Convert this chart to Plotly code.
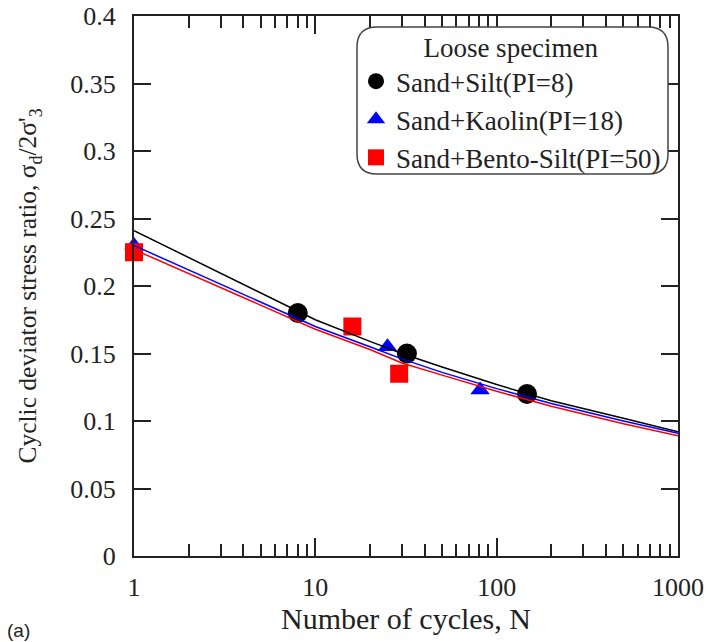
import plotly.graph_objects as go

# Measured points: number of cycles to failure vs. cyclic deviator stress ratio
silt_N = [8, 32, 147]
silt_csr = [0.180, 0.150, 0.120]

kaolin_N = [1, 25, 81]
kaolin_csr = [0.230, 0.155, 0.123]

bento_N = [1, 16, 29]
bento_csr = [0.225, 0.170, 0.135]

# Trend curves for each mixture
curve_N = [1, 8, 10, 20, 30, 50, 100, 200, 300, 500, 1000]
silt_curve = [0.241, 0.181, 0.175, 0.159, 0.150, 0.140, 0.127, 0.115, 0.109, 0.102, 0.092]
kaolin_curve = [0.230, 0.176, 0.170, 0.155, 0.146, 0.136, 0.124, 0.113, 0.107, 0.100, 0.091]
bento_curve = [0.227, 0.174, 0.168, 0.153, 0.143, 0.134, 0.122, 0.111, 0.105, 0.098, 0.089]

x_ticks = [1, 10, 100, 1000]
x_tick_text = ["1", "10", "100", "1000"]

series_names = ["Sand+Silt(PI=8)", "Sand+Kaolin(PI=18)", "Sand+Bento-Silt(PI=50)"]

FONT = "Liberation Serif"
TXT = "#222222"
W, H = 709, 642
L, R, T, B = 134, 31, 16, 86
PW, PH = W - L - R, H - T - B

fig = go.Figure()

marker_specs = [
    (silt_N, silt_csr, "circle", "black", 20),
    (kaolin_N, kaolin_csr, "triangle-up", "#0000ff", 17),
    (bento_N, bento_csr, "square", "#ff0000", 18),
]
for i, ((xs, ys, sym, col, sz), name) in enumerate(zip(marker_specs, series_names)):
    fig.add_trace(go.Scatter(
        x=xs, y=ys, mode="markers", name=name, legendgroup=f"g{i}",
        cliponaxis=False,
        marker=dict(symbol=sym, color=col, size=sz, line=dict(width=0)),
    ))

for ys, col in [(silt_curve, "black"), (kaolin_curve, "#0000ff"), (bento_curve, "#ff0000")]:
    fig.add_trace(go.Scatter(
        x=curve_N, y=ys, mode="lines", showlegend=False, hoverinfo="skip",
        line=dict(color=col, width=1.5),
    ))


def px_x(p):
    return (p - L) / PW


def px_y(p):
    return (H - B - p) / PH


# Rounded legend frame
x0, x1, y0, y1, r = 357, 668, 27, 174, 20
path = (
    f"M {px_x(x0 + r)},{px_y(y0)} L {px_x(x1 - r)},{px_y(y0)} "
    f"Q {px_x(x1)},{px_y(y0)} {px_x(x1)},{px_y(y0 + r)} "
    f"L {px_x(x1)},{px_y(y1 - r)} "
    f"Q {px_x(x1)},{px_y(y1)} {px_x(x1 - r)},{px_y(y1)} "
    f"L {px_x(x0 + r)},{px_y(y1)} "
    f"Q {px_x(x0)},{px_y(y1)} {px_x(x0)},{px_y(y1 - r)} "
    f"L {px_x(x0)},{px_y(y0 + r)} "
    f"Q {px_x(x0)},{px_y(y0)} {px_x(x0 + r)},{px_y(y0)} Z"
)
fig.add_shape(type="path", path=path, xref="paper", yref="paper",
              line=dict(color="#444444", width=1.5), fillcolor="white", layer="above")

axis_color = "#222222"
fig.update_xaxes(
    type="log", range=[0, 3], automargin=False,
    tickvals=x_ticks, ticktext=x_tick_text,
    ticks="inside", ticklen=18, tickwidth=1.5, tickcolor=axis_color,
    minor=dict(ticks="inside", ticklen=12, tickwidth=1.5, tickcolor=axis_color, dtick="D1"),
    showline=True, linecolor=axis_color, linewidth=2, mirror="ticks",
    showgrid=False, zeroline=False,
    tickfont=dict(family=FONT, size=26, color=TXT),
    ticklabelstandoff=7,
    title=dict(text="Number of cycles, N", font=dict(family=FONT, size=30, color=TXT),
               standoff=4),
)
fig.update_yaxes(
    range=[0, 0.4], dtick=0.05, automargin=False,
    ticks="inside", ticklen=17, tickwidth=1.5, tickcolor=axis_color,
    showline=True, linecolor=axis_color, linewidth=2, mirror="ticks",
    showgrid=False, zeroline=False,
    tickfont=dict(family=FONT, size=26, color=TXT),
    ticklabelstandoff=11,
    title=dict(text="Cyclic deviator stress ratio, σ<sub>d</sub>/2σ'<sub>3</sub>",
               font=dict(family=FONT, size=25.5, color=TXT), standoff=26),
)

fig.add_annotation(text="(a)", xref="paper", yref="paper",
                   x=px_x(18), y=px_y(630), xanchor="center", yanchor="middle",
                   showarrow=False,
                   font=dict(family="Liberation Sans", size=19, color=TXT))

fig.update_layout(
    width=W, height=H,
    margin=dict(l=L, r=R, t=T, b=B, autoexpand=False),
    paper_bgcolor="white", plot_bgcolor="white",
    showlegend=True,
    legend=dict(
        x=px_x(356), y=px_y(22), xanchor="left", yanchor="top",
        bgcolor="rgba(0,0,0,0)", borderwidth=0,
        font=dict(family=FONT, size=27, color=TXT),
        title=dict(text="Loose specimen", side="top center",
                   font=dict(family=FONT, size=27, color=TXT)),
        tracegroupgap=0,
    ),
)

fig.write_html("out.html")
